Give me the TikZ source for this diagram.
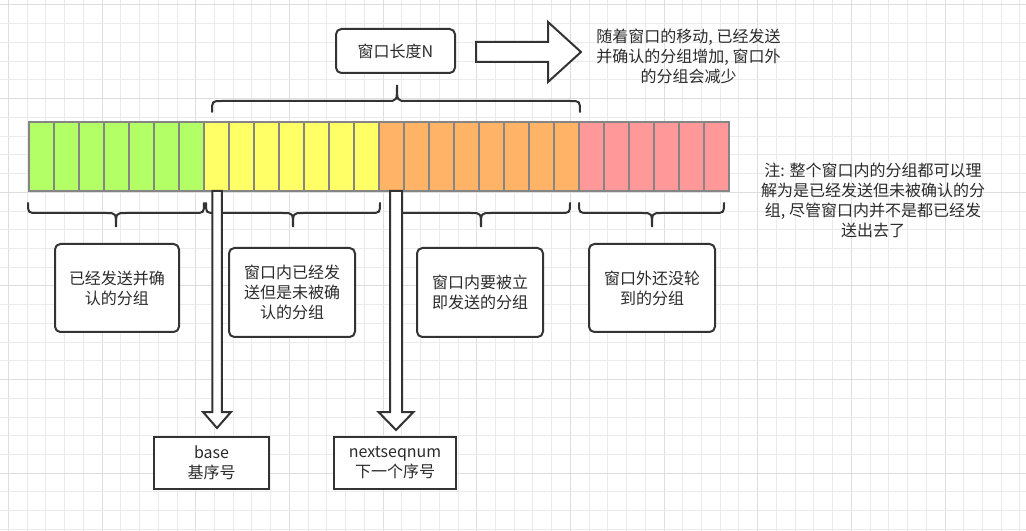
\documentclass[tikz,border=0pt]{standalone}
\usepackage{fontspec}
\setmainfont{Noto Sans CJK SC}
\definecolor{txt}{HTML}{2B2B2B}
\definecolor{dk}{HTML}{333333}
\definecolor{cellline}{HTML}{858585}
\definecolor{gminor}{HTML}{EBEBEB}
\definecolor{gmajor}{HTML}{DEDEDE}
\definecolor{cgreen}{HTML}{B3FF66}
\definecolor{cyellow}{HTML}{FFFF66}
\definecolor{corange}{HTML}{FFB366}
\definecolor{cred}{HTML}{FF9999}
\begin{document}
\begin{tikzpicture}[x=0.75pt,y=-0.75pt,
  every node/.style={font=\fontsize{12pt}{15pt}\selectfont, text=txt},
  cellbox/.style={draw=cellline, line width=1.5pt, minimum width=18.75pt, minimum height=51.75pt, inner sep=0pt, outer sep=0pt},
  rbox/.style={draw=dk, line width=1.5pt, rounded corners=4pt, fill=white, align=center, inner sep=0pt},
  sbox/.style={draw=dk, line width=1.5pt, fill=white, align=center, inner sep=0pt},
  bracepath/.style={draw=dk, line width=1.5pt, line cap=round},
  fatarrow/.style={draw=dk, line width=1.5pt, fill=white, line join=miter},
  lbl/.style={align=center, inner sep=0pt}]
\useasboundingbox (0,0) rectangle (1026,531);
\fill[white] (0,0) rectangle (1026,531);
% grid
\foreach \i in {0,...,54} {
  \pgfmathtruncatemacro{\m}{mod(\i,5)}
  \ifnum\m=0 \def\gc{gmajor}\else\def\gc{gminor}\fi
  \draw[\gc, line width=0.75pt] ({8.5+18.73*\i},0) -- ({8.5+18.73*\i},531);
}
\foreach \i in {0,...,28} {
  \pgfmathtruncatemacro{\m}{mod(\i,5)}
  \ifnum\m=0 \def\gc{gmajor}\else\def\gc{gminor}\fi
  \draw[\gc, line width=0.75pt] (0,{5+18.73*\i}) -- (1026,{5+18.73*\i});
}
% braces
\draw[bracepath] (212,112) .. controls (212,101) .. (222,101) -- (387,101) .. controls (397,101) .. (397,85) .. controls (397,101) .. (407,101) -- (570,101) .. controls (580,101) .. (580,112);
\draw[bracepath] (28,203) .. controls (28,213) .. (38,213) -- (106,213) .. controls (116,213) .. (116,227) .. controls (116,213) .. (126,213) -- (194,213) .. controls (204,213) .. (204,203);
\draw[bracepath] (206,203) .. controls (206,213) .. (216,213) -- (283,213) .. controls (293,213) .. (293,227) .. controls (293,213) .. (303,213) -- (370,213) .. controls (380,213) .. (380,203);
\draw[bracepath] (392,203) .. controls (392,213) .. (402,213) -- (471,213) .. controls (481,213) .. (481,227) .. controls (481,213) .. (491,213) -- (560,213) .. controls (570,213) .. (570,203);
\draw[bracepath] (579,203) .. controls (579,213) .. (589,213) -- (642,213) .. controls (652,213) .. (652,227) .. controls (652,213) .. (662,213) -- (714,213) .. controls (724,213) .. (724,203);
% cells
\foreach \i in {0,...,27} {
  \ifnum\i<7 \def\fc{cgreen}\else\ifnum\i<14 \def\fc{cyellow}\else\ifnum\i<22 \def\fc{corange}\else\def\fc{cred}\fi\fi\fi
  \node[cellbox, fill=\fc] (c\i) at ({41.5+25*\i},156.5) {};
}
% down arrows
\coordinate (abase) at (217,191);
\coordinate (anext) at (396,191);
\draw[fatarrow] (212.25,191) -- (212.25,412) -- (203,412) -- (217,428) -- (231,412) -- (221.75,412) -- (221.75,191) -- cycle;
\draw[fatarrow] (390,191) -- (390,412) -- (378.5,412) -- (396,430) -- (413.5,412) -- (402,412) -- (402,191) -- cycle;
% top right arrow
\draw[fatarrow] (476,42) -- (548,42) -- (548,22) -- (581,52) -- (548,82) -- (548,62) -- (476,62) -- cycle;
% boxes
\node[rbox, minimum width=89.25pt, minimum height=33pt] (win) at (395.5,51) {窗口长度N};
\node[rbox, minimum width=93pt, minimum height=66pt] (b1) at (117,288) {已经发送并确\\认的分组};
\node[rbox, minimum width=94.5pt, minimum height=66.75pt] (b2) at (292,292.5) {窗口内已经发\\送但是未被确\\认的分组};
\node[rbox, minimum width=94.5pt, minimum height=66.75pt] (b3) at (480,292.5) {窗口内要被立\\即发送的分组};
\node[rbox, minimum width=94.5pt, minimum height=66pt] (b4) at (652,288) {窗口外还没轮\\到的分组};
\node[sbox, minimum width=86.25pt, minimum height=39pt] (base) at (211.5,463) {base\\基序号};
\node[sbox, minimum width=91.5pt, minimum height=39pt] (next) at (395,463) {nextseqnum\\下一个序号};
% free texts
\node[lbl] (t1) at (688.5,56) {随着窗口的移动, 已经发送\\并确认的分组增加, 窗口外\\的分组会减少};
\node[lbl] (t2) at (873,200) {注: 整个窗口内的分组都可以理\\解为是已经发送但未被确认的分\\组, 尽管窗口内并不是都已经发\\送出去了};
\end{tikzpicture}
\end{document}
